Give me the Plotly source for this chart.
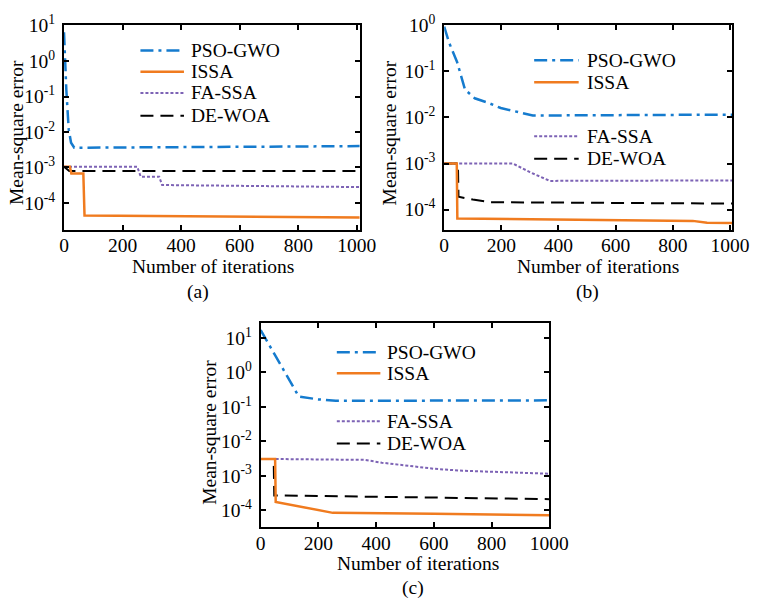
import plotly.graph_objects as go

W, H = 767, 601
FONT = "Liberation Serif"
FS = 19.5

names = ["PSO-GWO", "ISSA", "FA-SSA", "DE-WOA"]
colors = {"PSO-GWO": "#157BCE", "ISSA": "#F07B1F", "FA-SSA": "#7D63B5", "DE-WOA": "#000000"}
dashes = {"PSO-GWO": "13px,5px,3px,5px", "ISSA": "solid", "FA-SSA": "3px,2px", "DE-WOA": "13px,7px"}
widths = {"PSO-GWO": 2.5, "ISSA": 2.5, "FA-SSA": 2.0, "DE-WOA": 2.0}

x_title = "Number of iterations"
y_title = "Mean-square error"
panel_labels = ["(a)", "(b)", "(c)"]
x_ticks = [0, 200, 400, 600, 800, 1000]

# ---------------- panel (a) ----------------
a_pso_x = [0, 8, 16, 24, 35, 300, 1010]
a_pso_y = [6.5, 0.15, 0.012, 0.005, 0.0036, 0.0037, 0.0040]
a_issa_x = [0, 20, 25, 66, 70, 1010]
a_issa_y = [1.05e-3, 1.05e-3, 6.8e-4, 6.8e-4, 4.4e-5, 3.9e-5]
a_fa_x = [0, 250, 262, 325, 335, 1010]
a_fa_y = [1.05e-3, 1.05e-3, 5.5e-4, 5.5e-4, 3.2e-4, 2.8e-4]
a_de_x = [0, 18, 1010]
a_de_y = [1.05e-3, 7.9e-4, 7.9e-4]

# ---------------- panel (b) ----------------
b_pso_x = [0, 17, 45, 73, 107, 152, 198, 254, 310, 1008]
b_pso_y = [0.93, 0.42, 0.16, 0.040, 0.026, 0.021, 0.016, 0.0133, 0.011, 0.0115]
b_issa_x = [0, 44, 46, 800, 870, 920, 1008]
b_issa_y = [1.0e-3, 1.0e-3, 6.4e-5, 5.9e-5, 5.7e-5, 5.2e-5, 5.1e-5]
b_fa_x = [0, 240, 300, 370, 1008]
b_fa_y = [1.0e-3, 1.0e-3, 6.5e-4, 4.2e-4, 4.3e-4]
b_de_x = [0, 48, 50, 100, 160, 1008]
b_de_y = [1.0e-3, 1.0e-3, 1.9e-4, 1.65e-4, 1.45e-4, 1.35e-4]

# ---------------- panel (c) ----------------
c_pso_x = [0, 132, 200, 260, 1000]
c_pso_y = [17.0, 0.2, 0.165, 0.15, 0.155]
c_issa_x = [0, 50, 52, 250, 600, 850, 1000]
c_issa_y = [3.1e-3, 3.1e-3, 1.75e-4, 8.4e-5, 7.9e-5, 7.3e-5, 7.2e-5]
c_fa_x = [0, 360, 420, 510, 600, 700, 800, 1000]
c_fa_y = [3.1e-3, 2.9e-3, 2.4e-3, 1.95e-3, 1.6e-3, 1.4e-3, 1.3e-3, 1.15e-3]
c_de_x = [0, 45, 47, 500, 1000]
c_de_y = [3.1e-3, 3.1e-3, 2.7e-4, 2.4e-4, 2.1e-4]

panels = [
    {"PSO-GWO": (a_pso_x, a_pso_y), "ISSA": (a_issa_x, a_issa_y),
     "FA-SSA": (a_fa_x, a_fa_y), "DE-WOA": (a_de_x, a_de_y)},
    {"PSO-GWO": (b_pso_x, b_pso_y), "ISSA": (b_issa_x, b_issa_y),
     "FA-SSA": (b_fa_x, b_fa_y), "DE-WOA": (b_de_x, b_de_y)},
    {"PSO-GWO": (c_pso_x, c_pso_y), "ISSA": (c_issa_x, c_issa_y),
     "FA-SSA": (c_fa_x, c_fa_y), "DE-WOA": (c_de_x, c_de_y)},
]

y_exps = [[1, 0, -1, -2, -3, -4], [0, -1, -2, -3, -4], [1, 0, -1, -2, -3, -4]]
x_ranges = [[0, 1010], [0, 1008], [0, 1000]]
y_ranges = [[-4.76, 1.01], [-4.44, 0.0], [-4.49, 1.44]]

# pixel boxes (left, right, top, bottom)
boxes = [(61, 366.7, 12.5, 221.7), (454, 751.7, 12.5, 221.7), (264.3, 562.7, 316.7, 525.5)]


def fx(p):
    return p / W


def fy(p):
    return 1 - p / H


fig = go.Figure()
draw_order = ["PSO-GWO", "FA-SSA", "DE-WOA", "ISSA"]
for i, pdata in enumerate(panels):
    sfx = "" if i == 0 else str(i + 1)
    for nm in draw_order:
        xs, ys = pdata[nm]
        fig.add_trace(go.Scatter(
            x=xs, y=ys, mode="lines", name=nm, showlegend=False,
            line=dict(color=colors[nm], width=widths[nm], dash=dashes[nm]),
            xaxis="x" + sfx, yaxis="y" + sfx))

axis_common = dict(showline=True, linecolor="black", linewidth=2, mirror="ticks",
                   ticks="inside", ticklen=5, tickwidth=2, tickcolor="black",
                   showgrid=False, zeroline=False, ticklabeloverflow="allow",
                   tickfont=dict(family=FONT, size=FS, color="black"))

layout = dict(width=W, height=H, margin=dict(l=0, r=0, t=0, b=0),
              paper_bgcolor="white", plot_bgcolor="white", showlegend=False)
annotations = []
shapes = []
for i in range(3):
    sfx = "" if i == 0 else str(i + 1)
    l, r, t, b = boxes[i]
    layout["xaxis" + sfx] = dict(axis_common, domain=[fx(l), fx(r)], range=x_ranges[i],
                                 tickvals=x_ticks, ticktext=[str(v) for v in x_ticks],
                                 ticklabelstandoff=-3, anchor="y" + sfx)
    layout["yaxis" + sfx] = dict(axis_common, type="log", domain=[fy(b), fy(t)],
                                 range=y_ranges[i],
                                 tickvals=[10.0 ** e for e in y_exps[i]],
                                 ticktext=["10<sup>%d</sup>" % e for e in y_exps[i]],
                                 ticklabelstandoff=3, anchor="x" + sfx)

# titles and labels (pixel positions)
x_title_pos = [(215, 259), (613, 259), (427, 563)]
lab_pos = [(199, 285), (602, 285), (422, 588)]
y_title_pos = [(12, 122), (397, 123), (212, 429)]
for i in range(3):
    annotations.append(dict(text=x_title, x=fx(x_title_pos[i][0]), y=fy(x_title_pos[i][1]),
                            xref="paper", yref="paper", showarrow=False,
                            xanchor="center", yanchor="middle",
                            font=dict(family=FONT, size=FS, color="black")))
    annotations.append(dict(text=panel_labels[i], x=fx(lab_pos[i][0]), y=fy(lab_pos[i][1]),
                            xref="paper", yref="paper", showarrow=False,
                            xanchor="center", yanchor="middle",
                            font=dict(family=FONT, size=FS, color="black")))
    annotations.append(dict(text=y_title, x=fx(y_title_pos[i][0]), y=fy(y_title_pos[i][1]),
                            xref="paper", yref="paper", showarrow=False, textangle=-90,
                            xanchor="center", yanchor="middle",
                            font=dict(family=FONT, size=FS, color="black")))

# legends: (line x0, line x1, text x, [row y for each series])
legends = [
    (140, 185, 190, [38.3, 60, 81.7, 105]),
    (547, 593, 600, [48.3, 70.7, 126, 149]),
    (343, 388, 393, [346.7, 368.3, 417.3, 440]),
]
for (lx0, lx1, tx, rows) in legends:
    for nm, ry in zip(names, rows):
        shapes.append(dict(type="line", xref="paper", yref="paper",
                           x0=fx(lx0), x1=fx(lx1), y0=fy(ry), y1=fy(ry),
                           line=dict(color=colors[nm], width=widths[nm], dash=dashes[nm])))
        annotations.append(dict(text=nm, x=fx(tx), y=fy(ry), xref="paper", yref="paper",
                                showarrow=False, xanchor="left", yanchor="middle",
                                font=dict(family=FONT, size=FS, color="black")))

layout["annotations"] = annotations
layout["shapes"] = shapes
fig.update_layout(**layout)
fig.write_html("out.html")
